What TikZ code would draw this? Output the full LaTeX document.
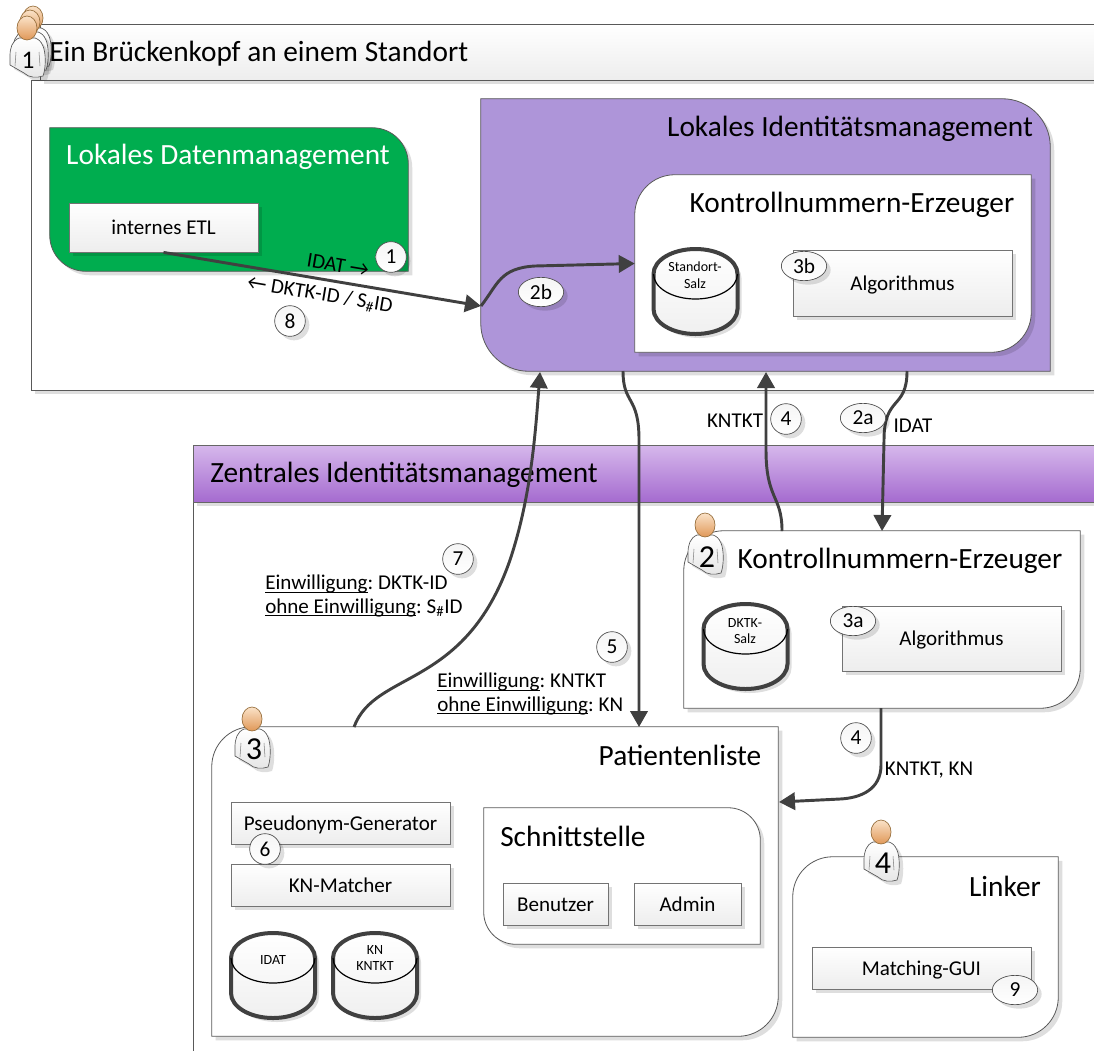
\documentclass[tikz,border=0pt]{standalone}
\usepackage{fontspec}
\setmainfont{Carlito}
\usetikzlibrary{arrows.meta,shapes.geometric,shadows}

\definecolor{headline}{RGB}{150,110,60}
\definecolor{headtop}{RGB}{250,226,200}
\definecolor{headbottom}{RGB}{224,152,88}
\definecolor{datagreen}{RGB}{0,173,79}
\definecolor{lidpurple}{RGB}{174,149,217}
\definecolor{bandtop}{RGB}{214,184,236}
\definecolor{bandbottom}{RGB}{165,107,207}

\newcommand{\panelup}[3]{\draw[panel line,#2] (#1.north west) [rounded corners=#3] -- (#1.north east) [sharp corners] -- (#1.south east) [rounded corners=#3] -- (#1.south west) [sharp corners] -- cycle;}
\newcommand{\paneldown}[3]{\draw[panel line,#2] (#1.north east) [rounded corners=#3] -- (#1.south east) [sharp corners] -- (#1.south west) [rounded corners=#3] -- (#1.north west) [sharp corners] -- cycle;}
\newsavebox{\linedbox}
\newcommand{\linedword}[1]{\sbox{\linedbox}{#1}\leavevmode\rlap{\rule[-2pt]{\wd\linedbox}{0.6pt}}\usebox{\linedbox}}
\frenchspacing

\begin{document}
\begin{tikzpicture}
        [x = 0.75pt, y = -0.75pt,
            > = {Triangle[length=12pt,width=13pt]},
            box size/.style 2 args = {minimum width=#1*0.75pt, minimum height=#2*0.75pt},
            soft shadow/.style = {drop shadow={shadow xshift=3pt, shadow yshift=-3pt, fill=black, opacity=0.13}},
            panel box/.style = {inner sep=0pt},
            panel line/.style = {draw=black!65, line width=0.6pt, soft shadow},
            frame box/.style = {draw=black!65, fill=white, line width=0.7pt, inner sep=0pt, soft shadow},
            main box/.style = {draw=black!55, top color=white, bottom color=black!7, line width=0.6pt, inner sep=0pt, text height=13pt, text depth=2pt, font=\fontsize{15.8}{18}\selectfont, soft shadow},
            step label/.style = {circle, draw=black!70, top color=black!4, bottom color=white, line width=0.5pt, inner sep=0pt, minimum size=23pt, font=\fontsize{16}{18}\selectfont, soft shadow},
            step oval/.style = {step label, ellipse, minimum width=34pt, minimum height=22pt},
            big text/.style = {font=\fontsize{22}{25}\selectfont, inner sep=0pt},
            small text/.style = {font=\fontsize{15.8}{17.3}\selectfont, inner sep=0pt},
            db text/.style = {align=center, inner sep=0pt, font=\fontsize{10.5}{12.5}\selectfont},
            flow line/.style = {->, draw=black!75, line width=2.2pt},
            person/.pic = {
                \draw[black!65, line width=0.5pt, top color=white, bottom color=black!10, soft shadow]
                    (-8,10) .. controls (-15,13) and (-17,20) .. (-17,28) -- (-17,37) -- (-3,45)
                    .. controls (2,50) and (10,50) .. (16,48) .. controls (19,40) and (19,25) .. (16,18)
                    .. controls (14,13) and (11,11) .. (8,10) -- cycle;
                \draw[black!50, line width=0.4pt] (-11,24) -- (-12,38) (12,24) -- (13,38);
                \draw[draw=headline, line width=0.5pt, top color=headtop, bottom color=headbottom] (0,0) ellipse (10 and 12);
            },
            dbase/.pic = {
                \draw[black!75, line width=3pt, top color=white, bottom color=black!6, soft shadow]
                    (-42,-18) .. controls (-42,-32) and (-23,-43) .. (0,-43) .. controls (23,-43) and (42,-32) .. (42,-18)
                    -- (42,17) .. controls (42,31) and (23,42) .. (0,42) .. controls (-23,42) and (-42,31) .. (-42,17) -- cycle;
                \draw[black, line width=0.9pt] (-42,-18) .. controls (-42,-4) and (-23,7) .. (0,7) .. controls (23,7) and (42,-4) .. (42,-18);
            }]

        \path[use as bounding box, clip] (0,0) rectangle (1094,1050);

        % Standort
        \node[frame box, box size={1080}{310}] (siteframe) at (571,235) {};
        \node[frame box, top color=white, bottom color=black!7, box size={1064}{56}] (sitehead) at (572,52) {};
        \node[big text, anchor=west] (sitetitle) at (49,54) {Ein Brückenkopf an einem Standort};

        \node[panel box, box size={358}{143}] (datapanel) at (229,199.5) {};
        \panelup{datapanel}{fill=datagreen}{27pt}
        \node[big text, white] (datatitle) at (228,157) {Lokales Datenmanagement};
        \node[main box, box size={189}{49}] (etl) at (163.5,227.5) {internes ETL};

        \node[panel box, box size={569}{272}] (lid) at (765.5,235) {};
        \panelup{lid}{fill=lidpurple}{36pt}
        \node[big text] (lidtitle) at (850,129) {Lokales Identitätsmanagement};

        \node[panel box, box size={396}{177}] (sitegen) at (833,263.5) {};
        \paneldown{sitegen}{fill=white}{30pt}
        \node[big text] (sitegentitle) at (852,205) {Kontrollnummern-Erzeuger};
        \pic at (695.5,292) {dbase};
        \node[db text] (sitesalt) at (695,275) {Standort-\\Salz};
        \node[main box, box size={219}{66}] (sitealgo) at (902.5,283) {Algorithmus};

        % Zentrale
        \node[frame box, box size={910}{560}] (centralframe) at (648,780) {};
        \node[draw=black!60, line width=0.7pt, inner sep=0pt, top color=bandtop, bottom color=bandbottom, soft shadow, box size={910}{57}] (centralhead) at (648,473.5) {};
        \node[big text, anchor=west] (centraltitle) at (210,475) {Zentrales Identitätsmanagement};

        \node[panel box, box size={396}{177}] (centralgen) at (882,619.5) {};
        \paneldown{centralgen}{fill=white}{30pt}
        \node[big text] (centralgentitle) at (900,561) {Kontrollnummern-Erzeuger};
        \pic at (745.5,647) {dbase};
        \node[db text] (centralsalt) at (745,631) {DKTK-\\Salz};
        \node[main box, box size={219}{65}] (centralalgo) at (951.5,638.5) {Algorithmus};

        \node[panel box, box size={566}{309}] (plist) at (495,881.5) {};
        \paneldown{plist}{fill=white}{30pt}
        \node[big text] (plisttitle) at (680,755) {Patientenliste};
        \node[main box, box size={219}{42}] (pseudo) at (340.5,823) {Pseudonym-Generator};
        \node[main box, box size={219}{42}] (matcher) at (340.5,885) {KN-Matcher};
        \pic at (273,976) {dbase};
        \node[db text] (idatdb) at (273,960) {IDAT};
        \pic at (375,976) {dbase};
        \node[db text] (kndb) at (375,958) {KN\\KNTKT};

        \node[panel box, box size={276}{136}] (iface) at (622,876) {};
        \panelup{iface}{fill=white}{24pt}
        \node[big text, anchor=west] (ifacetitle) at (500,836) {Schnittstelle};
        \node[main box, box size={105}{42}] (userbox) at (555.5,904) {Benutzer};
        \node[main box, box size={107}{42}] (adminbox) at (687.5,904) {Admin};

        \node[panel box, box size={265}{180}] (linker) at (925.5,947) {};
        \paneldown{linker}{fill=white}{30pt}
        \node[big text] (linkertitle) at (1005,886) {Linker};
        \node[main box, box size={219}{42}] (gui) at (921.5,968) {Matching-GUI};

        % Personen
        \pic at (33,18) {person};
        \pic at (30,22) {person};
        \pic at (27,28) {person};
        \node[font=\fontsize{19}{21}\selectfont, inner sep=0pt] (personone) at (28,60) {1};
        \pic at (705,525) {person};
        \node[font=\fontsize{24}{26}\selectfont, inner sep=0pt] (persontwo) at (707,557) {2};
        \pic at (252,719) {person};
        \node[font=\fontsize{24}{26}\selectfont, inner sep=0pt] (personthree) at (254,749) {3};
        \pic at (881,832) {person};
        \node[font=\fontsize{24}{26}\selectfont, inner sep=0pt] (personfour) at (883,863) {4};

        % Verbindungen
        \coordinate (lidin) at (481,306);
        \coordinate (lidout) at (623,371);
        \coordinate (plisttop) at (639,727);
        \coordinate (lidback) at (766,372);
        \coordinate (gentop) at (782,531);
        \coordinate (lidright) at (907,371);
        \coordinate (genin) at (882,531);
        \coordinate (plistout) at (354,727);
        \coordinate (lidlow) at (540,372);
        \coordinate (genout) at (881,708);
        \coordinate (plistin) at (779,802);

        \draw[flow line] (etl.south) -- (lidin);
        \draw[flow line] (lidin) .. controls (498,284) and (500,268) .. (535,266) -- (sitegen.west);
        \draw[flow line] (lidout) .. controls (623,405) and (639,395) .. (639,440) -- (plisttop);
        \draw[flow line] (gentop) .. controls (782,495) and (766,500) .. (766,450) -- (lidback);
        \draw[flow line] (lidright) .. controls (907,410) and (884,395) .. (884,440) -- (genin);
        \draw[flow line] (plistout) .. controls (375,670) and (465,690) .. (510,560) .. controls (530,500) and (535,440) .. (lidlow);
        \draw[flow line] (genout) -- (881,765) .. controls (881,790) and (860,798) .. (840,799) -- (plistin);

        % Texte
        \node[small text, rotate=-9.6] (idatlabel) at (338,265) {IDAT →};
        \node[small text, rotate=-9.6] (backlabel) at (320,295) {← DKTK-ID / S\textsubscript{\#}ID};
        \node[small text] (kntktlabel) at (735,421) {KNTKT};
        \node[small text] (idatout) at (913,426) {IDAT};
        \node[small text, anchor=west, align=left] (consenttop) at (265,596) {\linedword{Einwilligung}: DKTK-ID\\\linedword{ohne Einwilligung}: S\textsubscript{\#}ID};
        \node[small text, anchor=west, align=left] (consentlow) at (437,694) {\linedword{Einwilligung}: KNTKT\\\linedword{ohne Einwilligung}: KN};
        \node[small text] (kntktkn) at (929,770) {KNTKT, KN};

        \node[step label] (stepone) at (391,257) {1};
        \node[step label] (stepeight) at (290,321) {8};
        \node[step oval] (steptwob) at (541,292) {2b};
        \node[step oval] (stepthreeb) at (804,266) {3b};
        \node[step label] (stepfour) at (786,419) {4};
        \node[step oval] (steptwoa) at (863,418) {2a};
        \node[step oval] (stepthreea) at (853,621) {3a};
        \node[step label] (stepseven) at (458,559) {7};
        \node[step label] (stepfive) at (612,647) {5};
        \node[step label] (stepfourb) at (856,738) {4};
        \node[step label] (stepsix) at (265,849) {6};
        \node[step oval] (stepnine) at (1015,990) {9};
    \end{tikzpicture}
\end{document}
